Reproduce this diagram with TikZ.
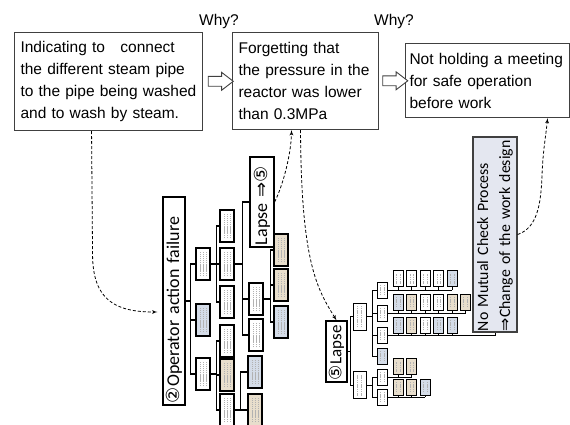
\documentclass[tikz,border=0pt]{standalone}
\usepackage{fontspec}
\setmainfont{Liberation Sans}
\newfontfamily\treefont{Carlito}
\newfontfamily\symfont{DejaVu Sans}
\usetikzlibrary{shapes,arrows,positioning,calc}
\hyphenpenalty=10000
\exhyphenpenalty=10000
\definecolor{beige}{RGB}{232,222,204}
\definecolor{steel}{RGB}{212,220,232}
\definecolor{mist}{RGB}{228,231,240}
\definecolor{ink}{RGB}{64,64,64}
\tikzstyle{cause} = [rectangle, draw=ink, line width=1.1pt, anchor=north west, align=left,
    inner xsep=6pt, inner ysep=0pt, font=\fontsize{15.5}{22}\selectfont]
\tikzstyle{hollow} = [single arrow, draw=ink, line width=0.9pt, fill=white, minimum height=25pt,
    inner xsep=0pt, inner ysep=4.5pt, single arrow head extend=4pt, single arrow tip angle=75]
\tikzstyle{failure} = [rectangle, draw, line width=1.3pt, fill=white, rotate=90, align=left,
    inner xsep=2pt, inner ysep=0pt, font=\treefont\fontsize{18}{20}\selectfont]
\tikzstyle{leaf} = [rectangle, draw, line width=1.2pt, fill=white, minimum width=14pt,
    minimum height=32pt, inner sep=0pt,
    path picture={\foreach \dx in {-3pt,0pt,3pt} \draw[gray!60, line width=0.5pt, dash pattern=on 1.4pt off 0.7pt]
      ([xshift=\dx, yshift=4pt]path picture bounding box.south) -- ([xshift=\dx, yshift=-4pt]path picture bounding box.north);}]
\tikzstyle{twig} = [leaf, line width=1pt, minimum width=10pt, minimum height=16pt,
    path picture={\foreach \dx in {-1.8pt,1.8pt} \draw[gray!60, line width=0.5pt, dash pattern=on 1.2pt off 0.6pt]
      ([xshift=\dx, yshift=3pt]path picture bounding box.south) -- ([xshift=\dx, yshift=-3pt]path picture bounding box.north);}]
\tikzstyle{link} = [draw, line width=1.3pt]
\tikzstyle{sublink} = [draw, line width=1pt]
\tikzstyle{trace} = [draw, dash pattern=on 3pt off 2pt, line width=0.8pt, -latex']

\begin{document}
\begin{tikzpicture}[x=1pt, y=-1pt, node distance=13.4pt]
	\clip (0,0) rectangle (570,425);

	\node [cause, text width=176pt, minimum height=98pt] (wash) at (14,32) {Indicating to \ \ connect\\the different steam pipe\\to the pipe being washed\\and to wash by steam.};
	\node [cause, text width=134pt, minimum height=97pt] (pressure) at (232,32) {Forgetting that\\the pressure in the\\reactor was lower\\than 0.3MPa};
	\node [cause, inner xsep=4pt, text width=156pt, minimum height=74pt] (meeting) at (405,43) {Not holding a meeting\\for safe operation\\before work};

	\node [font=\fontsize{15.5}{18}\selectfont, inner sep=0pt] (why1) at (219,21) {Why?};
	\node [font=\fontsize{15.5}{18}\selectfont, inner sep=0pt] (why2) at (394,21) {Why?};
	\node [hollow] (go1) at ($(wash.east)!0.5!(pressure.west)$) {};
	\node [hollow] (go2) at ($(pressure.east)!0.5!(meeting.west)$) {};

	\node [failure, text width=204pt, minimum height=22pt] (op) at (174,301) {{\symfont ②}Operator action failure};
	\node [leaf] (a1) at (203,264) {};
	\node [leaf, fill=steel] (a2) at (203,320) {};
	\node [leaf] (a3) at (203,374) {};
	\node [leaf] (b1) at (227,226) {};
	\node [leaf] (b2) at (227,264) {};
	\node [leaf] (b3) at (227,302) {};
	\node [failure, text width=86pt, minimum height=24pt] (lapse) at (262,202) {Lapse {\symfont ⇒}{\symfont ⑤}};
	\node [leaf] (c2) at (256,299) {};
	\node [leaf] (c3) at (256,335) {};
	\node [leaf, fill=beige] (d1) at (281,250) {};
	\node [leaf, fill=beige] (d2) at (281,285) {};
	\node [leaf, fill=steel] (d3) at (281,322) {};
	\node [leaf] (e1) at (227,341) {};
	\node [leaf, fill=beige] (e2) at (227,375) {};
	\node [leaf] (e3) at (227,410) {};
	\node [leaf, fill=steel] (f1) at (255,372) {};
	\node [leaf, fill=beige] (f2) at (255,410) {};

	\foreach \k in {a1,a2,a3} \path [link] (op.south) -- ++(5,0) |- (\k.west);
	\foreach \k in {b1,b2,b3} \path [link] (a1.east) -- ++(6,0) |- (\k.west);
	\foreach \k in {lapse.north,c2.west,c3.west} \path [link] (b2.east) -- ++(8,0) |- (\k);
	\foreach \k in {d1,d2,d3} \path [link] (c2.east) -- ++(7,0) |- (\k.west);
	\foreach \k in {e1,e2,e3} \path [link] (a3.east) -- ++(6,0) |- (\k.west);
	\foreach \k in {f1,f2} \path [link] (e3.east) -- ++(6,0) |- (\k.west);

	\node [failure, text width=57pt, minimum height=21pt, font=\treefont\fontsize{17}{19}\selectfont] (lapse5) at (336.5,351.5) {{\symfont ⑤}Lapse};
	\node [twig, minimum width=13pt, minimum height=27pt] (g1) at (359.5,316.5) {};
	\node [twig, minimum width=13pt, minimum height=27pt] (g2) at (359.5,385) {};
	\node [twig] (h1) at (382,290) {};
	\node [twig] (h2) at (382,313) {};
	\node [twig] (h3) at (382,335) {};
	\node [twig, fill=steel] (h4) at (382,356) {};
	\node [twig] (i1) at (382,377) {};
	\node [twig] (i2) at (382,397) {};

	\node [twig] (r1a) at (398.5,278.5) {};
	\node [twig, right of=r1a] (r1b) {};
	\node [twig, right of=r1b] (r1c) {};
	\node [twig, right of=r1c] (r1d) {};
	\node [twig, fill=steel, right of=r1d] (r1e) {};

	\node [twig, fill=steel] (r2a) at (398.5,302) {};
	\node [twig, fill=beige, right of=r2a] (r2b) {};
	\node [twig, right of=r2b] (r2c) {};
	\node [twig, right of=r2c] (r2d) {};
	\node [twig, fill=beige, right of=r2d] (r2e) {};
	\node [twig, fill=beige, right of=r2e] (r2f) {};

	\node [twig, fill=steel] (r3a) at (398.5,325) {};
	\node [twig, fill=beige, right of=r3a] (r3b) {};
	\node [twig, right of=r3b] (r3c) {};
	\node [twig, fill=steel, right of=r3c] (r3d) {};
	\node [twig, fill=steel, right of=r3d] (r3e) {};

	\node [twig, fill=beige] (s1a) at (398.5,366.5) {};
	\node [twig, fill=beige, right of=s1a] (s1b) {};
	\node [twig, fill=beige] (s2a) at (398.5,387) {};
	\node [twig, fill=beige, right of=s2a] (s2b) {};
	\node [twig, fill=steel, right of=s2b] (s2c) {};

	\node [failure, fill=mist, draw=ink, line width=1.2pt, inner xsep=1pt, text width=193pt, minimum height=44pt, font=\treefont\fontsize{15.8}{22}\selectfont] (mutual) at (495,234.5) {No Mutual Check Process\\{\symfont ⇒}Change of the work design};

	\foreach \k in {g1,g2} \path [sublink] (lapse5.south) -- ++(3,0) |- (\k.west);
	\foreach \k in {h1,h2,h3,h4} \path [sublink] (g1.east) -- ++(6,0) |- (\k.west);
	\foreach \k in {i1,i2} \path [sublink] (g2.east) -- ++(6,0) |- (\k.west);
	\path [sublink] (h1.east) -- (r1e.south |- h1.east);
	\foreach \k in {r1a,r1b,r1c,r1d,r1e} \path [sublink] (\k.south) -- (\k.south |- h1.east);
	\path [sublink] (h2.east) -- (r2f.south |- h2.east);
	\foreach \k in {r2a,r2b,r2c,r2d,r2e,r2f} \path [sublink] (\k.south) -- (\k.south |- h2.east);
	\path [sublink] (h3.east) -| (mutual.west);
	\foreach \k in {r3a,r3b,r3c,r3d,r3e} \path [sublink] (\k.south) -- (\k.south |- h3.east);
	\path [sublink] (i1.east) -- (s1b.south |- i1.east);
	\foreach \k in {s1a,s1b} \path [sublink] (\k.south) -- (\k.south |- i1.east);
	\path [sublink] (i2.east) -- (s2c.south |- i2.east);
	\foreach \k in {s2a,s2b,s2c} \path [sublink] (\k.south) -- (\k.south |- i2.east);

	\path [trace] ([xshift=-17pt]wash.south) -- ++(1,124) .. controls (93,300) and (115,312) .. ([xshift=-5pt,yshift=-11pt]op.north);
	\path [trace] (lapse.south) .. controls (283,185) and (291,155) .. ([xshift=-14pt]pressure.south);
	\path [trace] ([xshift=-5pt]pressure.south) .. controls (301,265) and (318,290) .. (lapse5.east);
	\path [trace] (mutual.south) .. controls (537,228) and (541,205) .. (542,175) .. controls (543,150) and (546,135) .. ([xshift=60pt]meeting.south);
\end{tikzpicture}
\end{document}
